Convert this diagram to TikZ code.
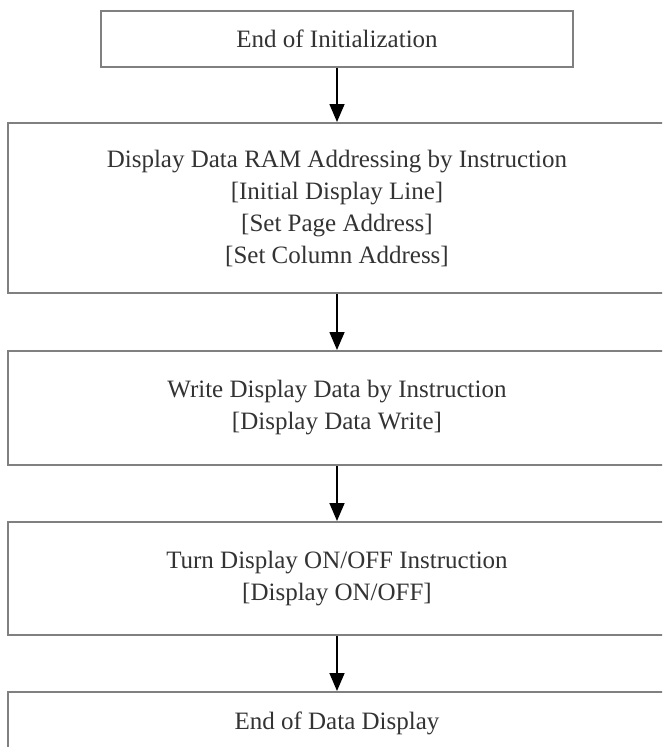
\documentclass[tikz,border=0pt]{standalone}
\usepackage{fontspec}
\setmainfont{Liberation Serif}
\usetikzlibrary{arrows.meta}
\tikzset{
  box/.style={draw=black!50, line width=2pt, rectangle, align=center,
    text=black!80, font=\fontsize{25}{32}\selectfont, inner sep=0pt},
  arr/.style={draw=black, line width=1.6pt, -{Triangle[length=18pt,width=15pt]}}
}
\begin{document}
\begin{tikzpicture}[x=1pt,y=-1pt]
\useasboundingbox (0,0) rectangle (662,747);
\clip (0,0) rectangle (662,747);
\fill[white] (0,0) rectangle (662,747);
\node[box, minimum width=472pt, minimum height=56pt] (b1) at (337,39) {End of Initialization};
\node[box, minimum width=658pt, minimum height=170pt] (b2) at (337,208)
  {Display Data RAM Addressing by Instruction\\{}[Initial Display Line]\\{}[Set Page Address]\\{}[Set Column Address]};
\node[box, minimum width=658pt, minimum height=114pt] (b3) at (337,408)
  {Write Display Data by Instruction\\{}[Display Data Write]};
\node[box, minimum width=658pt, minimum height=113pt] (b4) at (337,578.5)
  {Turn Display ON/OFF Instruction\\{}[Display ON/OFF]};
\node[box, minimum width=658pt, minimum height=62pt] (b5) at (337,723) {End of Data Display};
\draw[arr] (b1.south) -- (b2.north);
\draw[arr] (b2.south) -- (b3.north);
\draw[arr] (b3.south) -- (b4.north);
\draw[arr] (b4.south) -- (b5.north);
\end{tikzpicture}
\end{document}
